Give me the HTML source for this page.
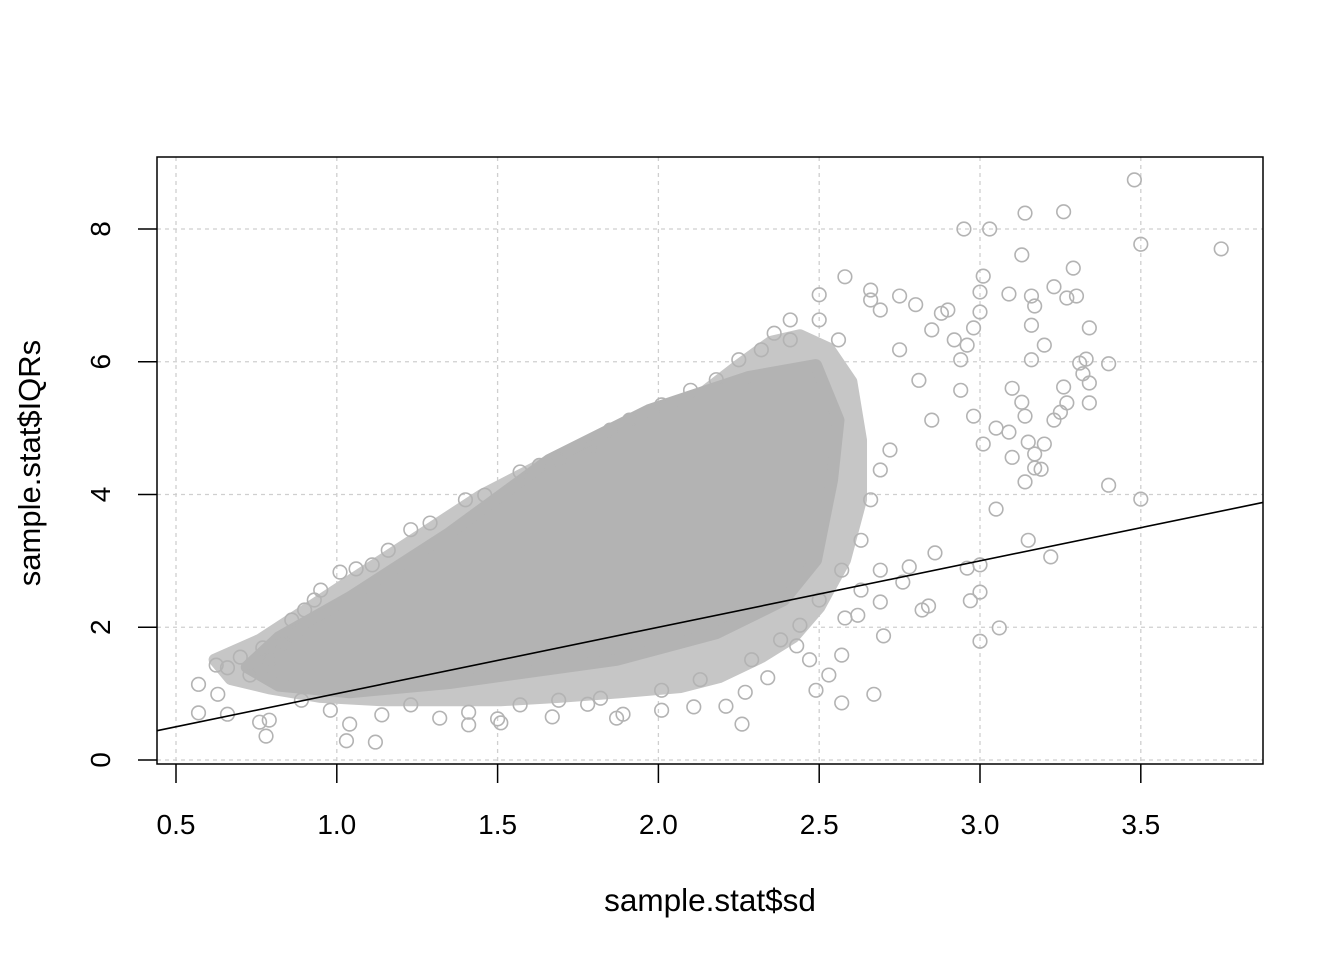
<!DOCTYPE html>
<html><head><meta charset="utf-8"><style>
html,body{margin:0;padding:0;background:#fff;}
svg{display:block;font-family:"Liberation Sans",Arial,sans-serif;}
</style></head><body>
<svg id="chart" width="1344" height="960">
<g id="grid"></g>
<g id="core"></g>
<g id="pts"></g>
<g id="fit"></g>
<rect x="157" y="157" width="1106" height="607" fill="none" stroke="#000" stroke-width="1.5"/>
<g id="axes"></g>
<text x="710" y="911" text-anchor="middle" font-size="31.5">sample.stat$sd</text>
<text x="0" y="0" transform="translate(40,463) rotate(-90)" text-anchor="middle" font-size="31">sample.stat$IQRs</text>
</svg>
<script>
const xTicks=[0.5,1.0,1.5,2.0,2.5,3.0,3.5];
const xTickLabels=["0.5","1.0","1.5","2.0","2.5","3.0","3.5"];
const yTicks=[0,2,4,6,8];
const yTickLabels=["0","2","4","6","8"];
const lineIntercept=0, lineSlope=1;
const outerX=[0.62,0.76,0.95,1.07,1.26,1.45,1.63,1.82,1.98,2.13,2.25,2.35,2.44,2.53,2.60,2.63,2.63,2.58,2.50,2.42,2.32,2.19,2.07,1.88,1.69,1.51,1.32,1.14,0.95,0.79,0.67];
const outerY=[1.51,1.81,2.41,2.79,3.39,3.99,4.44,4.82,5.12,5.50,5.95,6.30,6.40,6.20,5.70,4.82,3.92,3.01,2.30,1.85,1.55,1.25,1.10,1.02,0.95,0.90,0.90,0.90,0.95,1.08,1.22];
const coreX=[0.72,0.82,1.04,1.35,1.66,1.97,2.28,2.49,2.56,2.54,2.49,2.39,2.18,1.87,1.35,1.04,0.82];
const coreY=[1.40,1.85,2.45,3.42,4.52,5.27,5.77,5.95,5.12,4.22,3.01,2.41,1.91,1.51,1.16,1.02,1.12];
const sdX=[2.95,3.03,3.14,3.26,3.50,3.75,3.48,3.13,3.01,3.29,3.23,3.27,3.30,3.09,3.16,3.16,3.17,3.34,3.31,3.40,3.34,3.32,3.34,3.26,3.27,3.33,3.20,3.16,3.10,3.13,3.14,3.23,3.15,3.20,3.17,3.10,3.17,3.14,3.19,3.40,3.50,3.15,3.22,3.25,3.09,3.05,3.01,2.98,3.05,3.00,2.97,3.00,3.06,3.00,2.96,2.86,2.82,2.84,2.78,2.76,2.70,2.67,2.69,2.63,2.69,2.62,2.58,2.57,2.53,2.57,2.49,2.47,2.43,2.34,2.26,2.27,2.21,2.11,2.01,1.89,1.87,1.78,1.67,1.50,1.41,1.51,1.41,1.12,1.03,1.04,0.78,0.76,0.57,0.57,0.66,0.63,0.79,2.88,2.90,2.80,2.75,2.85,2.92,2.96,2.98,3.00,3.00,2.94,2.81,2.85,2.94,2.75,2.69,2.66,2.58,2.66,2.50,2.41,2.36,2.50,2.56,0.625,0.66,0.70,0.73,0.77,0.79,0.83,0.87,0.86,0.90,0.93,0.95,1.01,1.06,1.11,1.16,1.23,1.29,1.40,1.46,1.57,1.63,1.69,1.79,1.85,1.91,2.01,2.10,2.18,2.25,2.32,2.41,0.89,0.98,1.14,1.23,1.32,1.57,1.69,1.82,2.01,2.13,2.29,2.38,2.44,2.50,2.57,2.63,2.66,2.69,2.72];
const iqrY=[8.0,8.0,8.24,8.26,7.77,7.70,8.74,7.61,7.29,7.41,7.13,6.96,6.99,7.02,6.99,6.55,6.84,6.51,5.98,5.97,5.68,5.82,5.38,5.62,5.38,6.04,6.25,6.03,5.60,5.39,5.18,5.12,4.79,4.76,4.61,4.56,4.40,4.19,4.38,4.14,3.93,3.31,3.06,5.24,4.94,5.00,4.76,5.18,3.78,2.94,2.40,2.53,1.99,1.79,2.89,3.12,2.26,2.32,2.91,2.68,1.87,0.99,2.86,2.56,2.38,2.18,2.14,1.58,1.28,0.86,1.05,1.51,1.72,1.24,0.54,1.02,0.81,0.80,0.75,0.69,0.63,0.84,0.65,0.62,0.53,0.56,0.72,0.27,0.29,0.54,0.36,0.57,1.14,0.71,0.69,0.99,0.60,6.73,6.78,6.86,6.99,6.48,6.33,6.25,6.51,6.75,7.05,6.03,5.72,5.12,5.57,6.18,6.78,7.08,7.28,6.93,7.01,6.63,6.43,6.63,6.33,1.43,1.39,1.55,1.28,1.69,1.51,1.76,1.87,2.11,2.26,2.41,2.56,2.83,2.88,2.94,3.16,3.47,3.57,3.92,3.99,4.34,4.44,4.52,4.72,4.97,5.12,5.35,5.57,5.73,6.03,6.18,6.33,0.90,0.75,0.68,0.83,0.63,0.83,0.90,0.93,1.05,1.21,1.51,1.81,2.03,2.41,2.86,3.31,3.92,4.37,4.67];

const NS="http://www.w3.org/2000/svg";
const L=157,R=1263,T=157,B=764;
function sx(v){return 176+(v-0.5)*321.6;}
function sy(v){return 760-v*66.375;}
function mk(tag,attrs,parent){const e=document.createElementNS(NS,tag);for(const k in attrs)e.setAttribute(k,attrs[k]);parent.appendChild(e);return e;}
const grid=document.getElementById('grid'),axes=document.getElementById('axes');
xTicks.forEach((v,i)=>{
  const g=mk('line',{x1:sx(v),x2:sx(v),y1:T,y2:B,stroke:'#cfcfcf','stroke-width':1.3,'stroke-dasharray':'4 4'},grid);
  
  
  const t=mk('line',{x1:sx(v),x2:sx(v),y1:B,y2:B+19,stroke:'#000','stroke-width':1.5},axes);
  
  
  const tx=mk('text',{x:sx(v),y:834,'text-anchor':'middle','font-size':28},axes);
  tx.textContent=xTickLabels[i];
  
  
});
yTicks.forEach((v,i)=>{
  const g=mk('line',{x1:L,x2:R,y1:sy(v),y2:sy(v),stroke:'#cfcfcf','stroke-width':1.3,'stroke-dasharray':'4 4'},grid);
  
  
  const t=mk('line',{x1:L-19,x2:L,y1:sy(v),y2:sy(v),stroke:'#000','stroke-width':1.5},axes);
  
  
  const tx=mk('text',{x:0,y:0,transform:`translate(110,${sy(v)}) rotate(-90)`,'text-anchor':'middle','font-size':28},axes);
  tx.textContent=yTickLabels[i];
  
  
});
const core=document.getElementById('core');
const outer=mk('polygon',{points:outerX.map((x,i)=>sx(x)+','+sy(outerY[i])).join(' '),fill:'#c6c6c6',stroke:'#c6c6c6','stroke-width':12,'stroke-linejoin':'round'},core);


const poly=mk('polygon',{points:coreX.map((x,i)=>sx(x)+','+sy(coreY[i])).join(' '),fill:'#b3b3b3',stroke:'#b3b3b3','stroke-width':12,'stroke-linejoin':'round'},core);


const pts=document.getElementById('pts');
sdX.forEach((x,i)=>{
  const c=mk('circle',{cx:sx(x),cy:sy(iqrY[i]),r:6.8,fill:'none',stroke:'#b3b3b3','stroke-width':1.6},pts);
  
  
});
const fit=document.getElementById('fit');
const x0=0.4412,x1=3.88;
const ln=mk('line',{x1:L,y1:sy(lineIntercept+lineSlope*x0),x2:R,y2:sy(lineIntercept+lineSlope*x1),stroke:'#000','stroke-width':1.6},fit);


</script>
</body></html>
